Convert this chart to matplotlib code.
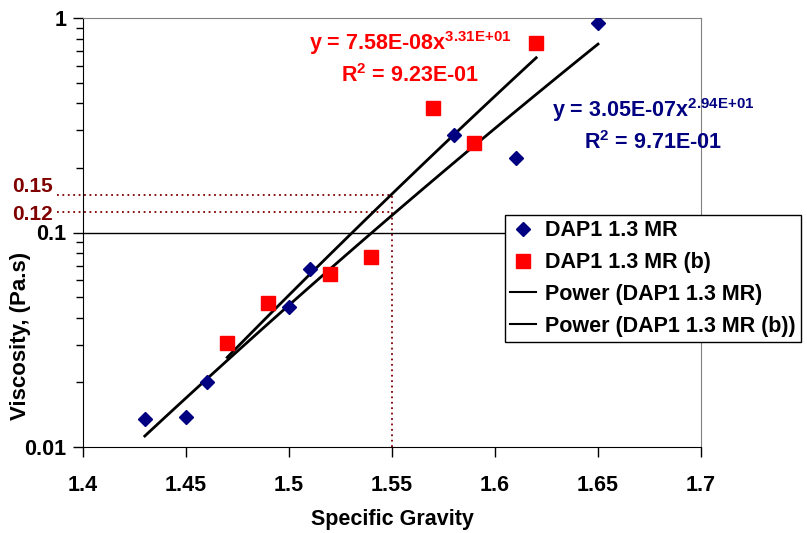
import numpy as np
import matplotlib
matplotlib.use('Agg')
from matplotlib import pyplot as plt
from matplotlib.ticker import LogLocator, FixedLocator, NullFormatter

plt.rcParams['font.family'] = ['Liberation Sans', 'DejaVu Sans']
plt.rcParams['font.weight'] = 'bold'
plt.rcParams['mathtext.fontset'] = 'custom'
plt.rcParams['mathtext.rm'] = 'Liberation Sans:bold'
plt.rcParams['mathtext.default'] = 'rm'

# DAP1 1.3 MR
sg_a = [1.43, 1.45, 1.46, 1.50, 1.51, 1.58, 1.61, 1.65]
visc_a = [0.0135, 0.0138, 0.0200, 0.0451, 0.0676, 0.285, 0.222, 0.951]

# DAP1 1.3 MR (b)
sg_b = [1.47, 1.49, 1.52, 1.54, 1.57, 1.59, 1.62]
visc_b = [0.0306, 0.0471, 0.0638, 0.0766, 0.379, 0.261, 0.762]

# power trendlines y = a * x^b
fit_a = (3.05e-07, 29.4)
fit_b = (7.58e-08, 33.1)

# reading lines
read_sg = 1.55
read_visc = [0.15, 0.125]
read_labels = ['0.15', '0.12']

navy = '#000080'
red = '#FF0000'
darkred = '#800000'

W, H = 807, 533
fig = plt.figure(figsize=(W / 100, H / 100), dpi=100)
ax = fig.add_axes([83 / W, 1 - 447 / H, 618 / W, 429 / H])

ax.set_yscale('log')
ax.set_xlim(1.4, 1.7)
ax.set_ylim(0.01, 1)

# gridline at 0.1
ax.axhline(0.1, color='black', lw=1, zorder=1)

# dotted reading lines
for v in read_visc:
    ax.plot([1.3875, read_sg], [v, v], ls=(0, (1, 2)), color=darkred, lw=1.3,
            clip_on=False, zorder=2)
ax.plot([read_sg, read_sg], [0.01, max(read_visc)], ls=(0, (1, 2)),
        color=darkred, lw=1.3, zorder=2)
for lab, ypx in zip(read_labels, [187, 214]):
    fig.text(12 / W, 1 - ypx / H, lab, color=darkred, fontsize=15,
             fontweight='bold', ha='left', va='center')

ax.plot(sg_a, visc_a, ls='none', marker='D', ms=7, color=navy,
        label='DAP1 1.3 MR', zorder=4)
ax.plot(sg_b, visc_b, ls='none', marker='s', ms=9.5, color=red,
        label='DAP1 1.3 MR (b)', zorder=4)

xa = np.linspace(min(sg_a), max(sg_a), 100)
ax.plot(xa, fit_a[0] * xa ** fit_a[1], color='black', lw=2,
        label='Power (DAP1 1.3 MR)', zorder=3)
xb = np.linspace(min(sg_b), max(sg_b), 100)
ax.plot(xb, fit_b[0] * xb ** fit_b[1], color='black', lw=2,
        label='Power (DAP1 1.3 MR (b))', zorder=3)

# equation labels
fig.text(410 / W, 1 - 43 / H, 'y = 7.58E-08x$^{3.31E{+}01}$', color=red,
         fontsize=15.5, ha='center', va='center')
fig.text(410 / W, 1 - 76 / H, 'R$^{2}$ = 9.23E-01', color=red,
         fontsize=15.5, ha='center', va='center')
fig.text(653 / W, 1 - 110 / H, 'y = 3.05E-07x$^{2.94E{+}01}$', color=navy,
         fontsize=15.5, ha='center', va='center')
fig.text(653 / W, 1 - 143 / H, 'R$^{2}$ = 9.71E-01', color=navy,
         fontsize=15.5, ha='center', va='center')

# ticks
ax.xaxis.set_major_locator(FixedLocator(np.arange(1.4, 1.701, 0.05)))
ax.set_xticklabels(['1.4', '1.45', '1.5', '1.55', '1.6', '1.65', '1.7'])
ax.yaxis.set_major_locator(FixedLocator([0.01, 0.1, 1]))
ax.set_yticklabels(['0.01', '0.1', '1'])
ax.yaxis.set_minor_locator(LogLocator(base=10, subs=np.arange(2, 10)))
ax.yaxis.set_minor_formatter(NullFormatter())
ax.tick_params(axis='both', which='major', direction='out', length=7,
               width=1, labelsize=15.5)
ax.tick_params(axis='x', pad=13)
ax.tick_params(axis='y', pad=5)
ax.tick_params(axis='y', which='minor', direction='out', length=5, width=1)

for s in ['top', 'right']:
    ax.spines[s].set_color('#808080')
for s in ['left', 'bottom']:
    ax.spines[s].set_color('black')

fig.text(392 / W, 1 - 520 / H, 'Specific Gravity', fontsize=15.5,
         fontweight='bold', ha='center', va='center')
fig.text(21 / W, 1 - 336 / H, 'Viscosity, (Pa.s)', fontsize=16,
         fontweight='bold', ha='center', va='center', rotation=90)

leg = ax.legend(loc='upper left', bbox_to_anchor=(505 / W, 1 - 215 / H),
                bbox_transform=fig.transFigure, fontsize=15.5, frameon=True,
                fancybox=False, edgecolor='black', framealpha=1,
                borderpad=0.25, labelspacing=0.5, handlelength=1.2,
                handletextpad=0.4, borderaxespad=0)
leg.get_frame().set_linewidth(1)
for h in leg.legend_handles[2:]:
    h.set_linewidth(1.5)

fig.savefig('out.png', dpi=100)
